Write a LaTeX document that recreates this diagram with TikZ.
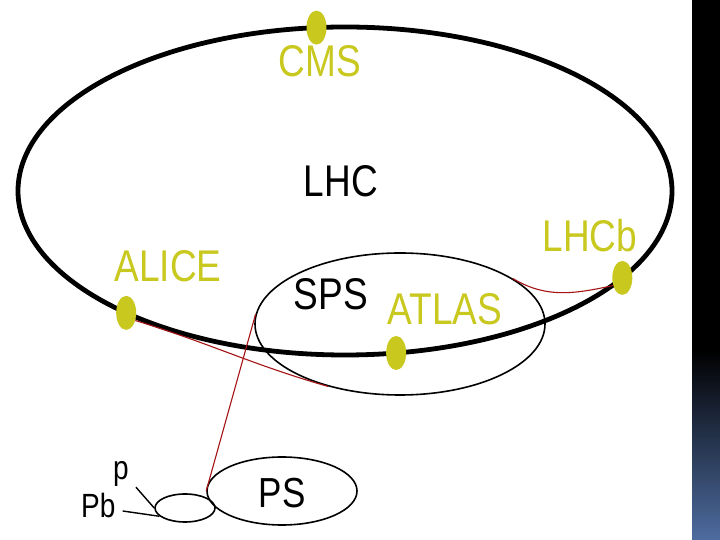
\documentclass[tikz,border=0pt]{standalone}
\usepackage{fontspec}
\setmainfont{Liberation Sans}
\usetikzlibrary{shapes.geometric}
\definecolor{detyellow}{RGB}{200,200,30}
\definecolor{beamred}{RGB}{165,20,20}
\definecolor{bandblue}{RGB}{78,108,160}
\begin{document}
\begin{tikzpicture}[x=1pt,y=1pt,
        det/.style={ellipse,fill=detyellow,minimum width=20pt,minimum height=34pt,inner sep=0pt},
        biglabel/.style={font=\fontsize{37}{40}\selectfont,yscale=1.2,inner sep=0pt,anchor=base},
        detlabel/.style={biglabel,text=detyellow},
        smalllabel/.style={font=\fontsize{28}{30}\selectfont,yscale=1.2,inner sep=0pt,anchor=base west},
        ring/.style={ellipse,draw,line width=1.6pt,inner sep=0pt},
        beam/.style={beamred,line width=1.1pt}]
        \useasboundingbox (0,0) rectangle (720,540);
        \fill [white] (0,0) rectangle (720,540);
        \fill [black] (692,190) rectangle (720,540);
        \shade [top color=black,bottom color=bandblue] (692,0) rectangle (720,190);

        \node[ring,minimum width=290pt,minimum height=142pt] (sps) at (400,216) {};
        \node[ring,minimum width=150pt,minimum height=68pt] (ps) at (282,49) {};
        \node[ring,minimum width=60pt,minimum height=28pt] (booster) at (185,32) {};
        \draw [line width=4.8pt] (345,349) ellipse [x radius=327, y radius=164];
        \foreach \n/\t in {cms/95,alice/228,atlas/279,lhcb/328}{
            \node[det] (\n) at ({345+327*cos(\t)},{349+164*sin(\t)}) {};
        }

        \node[detlabel] (cmslbl) at (320,463) {CMS};
        \node[biglabel] (lhclbl) at (341,343) {LHC};
        \node[detlabel] (lhcblbl) at (590,288) {LHCb};
        \node[detlabel] (alicelbl) at (168,258) {ALICE};
        \node[biglabel] (spslbl) at (331,230) {SPS};
        \node[detlabel] (atlaslbl) at (445,215) {ATLAS};
        \node[biglabel,font=\fontsize{35}{38}\selectfont] (pslbl) at (282,32) {PS};
        \node[smalllabel] (p) at (113,60) {p};
        \node[smalllabel] (pb) at (81,22) {Pb};

        \draw [line width=1.4pt] (p.south east) ++(7,0) -- (booster.west);
        \draw [line width=1.4pt] ([xshift=7pt,yshift=-5pt]pb.east) -- (booster.198);

        \draw [beam] (ps.west) -- (sps.176);
        \draw [beam] (alice.-40) to[out=-17,in=164] (sps.221);
        \draw [beam] (lhcb.220) to[out=192,in=-31] (sps.22);
\end{tikzpicture}
\end{document}
